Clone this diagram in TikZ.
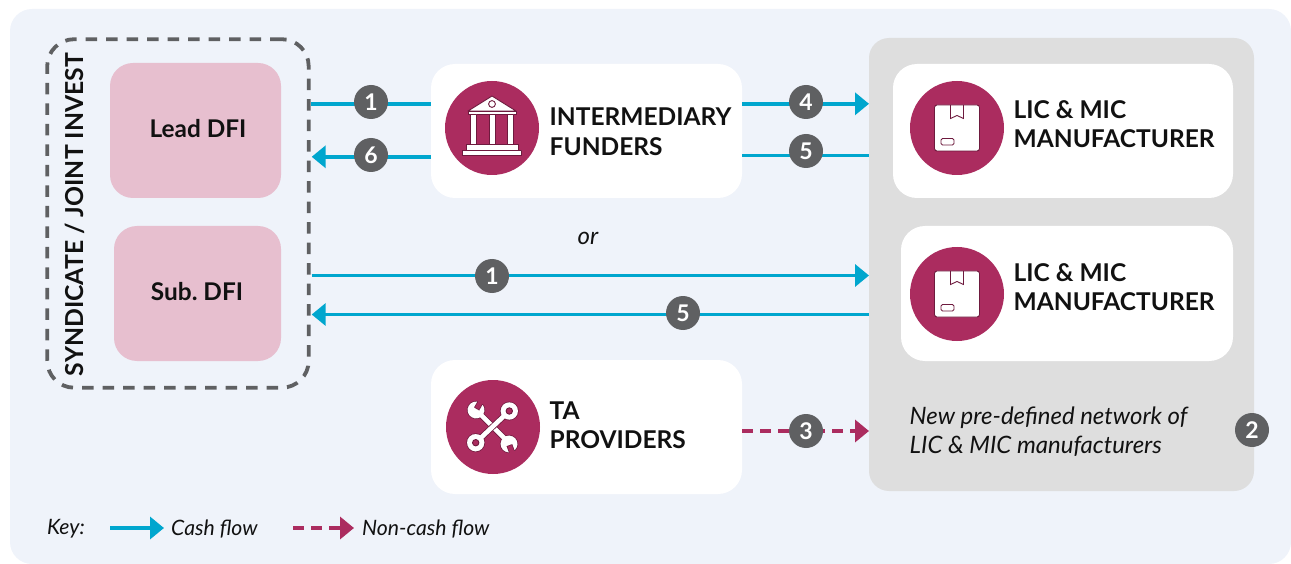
\documentclass[tikz,border=0pt]{standalone}
\usepackage{fontspec}
\setmainfont{Lato}
\usetikzlibrary{arrows.meta,calc}
\definecolor{bgc}{HTML}{EFF3FA}
\definecolor{cash}{HTML}{00A6CE}
\definecolor{plum}{HTML}{AB2C5F}
\definecolor{plumd}{HTML}{6E1A3E}
\definecolor{pinkc}{HTML}{E7BFCF}
\definecolor{greyc}{HTML}{DEDEDE}
\definecolor{badgec}{HTML}{5F6062}
\definecolor{inkc}{HTML}{111111}
\tikzset{
 x=1pt,y=-1pt,
 whitebox/.style={fill=white,rounded corners=24pt,draw=none,anchor=north west,inner sep=0pt,outer sep=0pt},
 pinkbox/.style={fill=pinkc,rounded corners=23pt,draw=none,anchor=north west,inner sep=0pt,outer sep=0pt},
 iconc/.style={circle,fill=plum,minimum size=94pt,inner sep=0pt,outer sep=0pt,draw=none},
 badge/.style={circle,fill=badgec,text=white,minimum size=34pt,inner sep=0pt,font=\fontsize{23}{23}\selectfont\bfseries},
 cashline/.style={draw=cash,line width=3.6pt},
 casharrow/.style={cashline,-{Triangle[length=14pt,width=22pt]}},
 noncash/.style={draw=plum,line width=3.6pt,dash pattern=on 11pt off 7pt,-{Triangle[length=14pt,width=22pt,fill=plum]}},
 head/.style={anchor=west,align=left,text=inkc,font=\fontsize{24.5}{29.5}\selectfont\bfseries,inner sep=0pt},
 dfi/.style={text=inkc,font=\fontsize{24.4}{28}\selectfont\bfseries},
 ital/.style={anchor=west,align=left,text=inkc,font=\fontsize{23.95}{29}\selectfont\itshape,inner sep=0pt},
 keytxt/.style={anchor=west,text=inkc,font=\fontsize{21.2}{25}\selectfont\itshape,inner sep=0pt},
 iconw/.style={fill=white,draw=plumd,line width=0.9pt,line join=round},
}
\begin{document}
\begin{tikzpicture}
\useasboundingbox (0,0) rectangle (1291,564);
\fill[bgc,rounded corners=22pt] (10,9) rectangle (1291,564);
% panels
\node[fill=greyc,rounded corners=20pt,anchor=north west,inner sep=0pt,outer sep=0pt,minimum width=385pt,minimum height=453pt] (net) at (869,38) {};
\node[draw=badgec,line width=3.8pt,dash pattern=on 11.5pt off 9pt,rounded corners=27pt,anchor=north west,inner sep=0pt,outer sep=0pt,minimum width=261.5pt,minimum height=348.5pt] (synd) at (47.2,39.2) {};
\node[pinkbox,minimum width=171pt,minimum height=135pt] (lead) at (110,63) {};
\node[dfi,xshift=2.5pt,yshift=2pt] (leadt) at (lead.center) {Lead DFI};
\node[pinkbox,minimum width=167pt,minimum height=135pt] (sub) at (114,226) {};
\node[dfi,xshift=-0.5pt,yshift=1.5pt] (subt) at (sub.center) {Sub.~DFI};
\node[whitebox,minimum width=311pt,minimum height=134pt] (inter) at (431,64) {};
\node[whitebox,minimum width=311pt,minimum height=134pt] (ta) at (431,360) {};
\node[whitebox,minimum width=340pt,minimum height=134pt] (licA) at (893,64) {};
\node[whitebox,minimum width=332pt,minimum height=135pt] (licB) at (901,226) {};
% icon discs
\node[iconc] (ci) at (492,128) {};
\node[iconc] (ct) at (493,427) {};
\node[iconc] (cla) at (957,128) {};
\node[iconc] (clb) at (957,294) {};
% bank icon
\begin{scope}[shift={(ci.center)}]
 \path[iconw] (-24,-17) -- (0,-32) -- (24,-17) -- cycle;
 \path[iconw] (-24,-17) rectangle (24,-14);
 \path[iconw] (0,-24) circle (3.4);
 \foreach \c in {-18.5,0,18.5}{\path[iconw] (\c-3,-14) rectangle (\c+3,16);}
 \path[iconw] (-26,16) rectangle (26,22);
 \path[iconw] (-29.5,22) rectangle (29.5,27);
\end{scope}
% box icons
\foreach \c in {cla,clb}{
\begin{scope}[shift={(\c.center)}]
 \path[iconw,rounded corners=2.5pt] (-22.5,-23) rectangle (22.5,23);
 \path[draw=plumd,line width=0.9pt] (-6.5,-23) -- (-6.5,-9.5) -- (0,-12.5) -- (6.5,-9.5) -- (6.5,-23);
 \path[iconw,rounded corners=1.5pt] (-16,10.5) rectangle (-3,17);
\end{scope}}
% wrench icon
\begin{scope}[shift={(ct.center)}]
 % open-ended spanner
 \foreach \col/\hw/\ow in {plumd/6.2/1.6,white/4.6/0.01}{
  \draw[\col,line width=\hw pt] (-14,-14) -- (14,14);
  \foreach \px/\py/\a in {-17/-17/-30,16/17/200}{
   \begin{scope}[shift={(\px,\py)},rotate=\a]
    \path[fill=\col,draw=\col,line width=\ow pt,line join=round] (3.2,-7.7) arc[start angle=-67.4,end angle=247.4,radius=8.34] -- (-3.2,-1) -- (3.2,-1) -- cycle;
   \end{scope}
  }
 }
 % ring spanner
 \foreach \col/\hw/\ow in {plumd/6.2/1.6,white/4.6/0.01}{
  \draw[\col,line width=\hw pt] (16.3,-16) -- (-17.3,15.7);
  \foreach \px/\py in {16.3/-16,-17.3/15.7}{
   \path[fill=\col,draw=\col,line width=\ow pt] (\px,\py) circle (8.6);
  }
 }
 \foreach \px/\py in {16.3/-16,-17.3/15.7}{
  \path[fill=plum,draw=plumd,line width=0.9pt] (\px,\py) circle (3.2);
 }
\end{scope}
% connectors
\draw[cashline] (synd.east |- 0,103.8) ++(2.5,0) -- (inter.west |- 0,103.8);
\draw[casharrow,shorten >=3pt] (inter.west |- 0,156.8) -- (synd.east |- 0,156.8);
\draw[casharrow] (inter.east |- 0,103.8) -- (net.west |- 0,103.8);
\draw[cashline] (inter.east |- 0,155.5) -- (net.west |- 0,155.5);
\draw[casharrow,shorten <=3pt] (synd.east |- 0,275.5) -- (net.west |- 0,275.5);
\draw[casharrow,shorten >=3pt] (net.west |- 0,314.5) -- (synd.east |- 0,314.5);
\draw[noncash] (ta.east |- 0,431) -- (net.west |- 0,431);
% badges
\node[badge] (b1a) at (371,102) {1};
\node[badge] (b6) at (371,155) {6};
\node[badge] (b4) at (806,102) {4};
\node[badge] (b5a) at (806,151) {5};
\node[badge] (b1b) at (492,276) {1};
\node[badge] (b5b) at (683,313) {5};
\node[badge] (b3) at (806,431) {3};
\node[badge] (b2) at (1252,430) {2};
% text
\node[head] (ti) at (549.5,131.5) {INTERMEDIARY\\FUNDERS};
\node[head] (tt) at (549.5,425) {TA\\PROVIDERS};
\node[head] (tla) at (1013.5,124) {LIC \& MIC\\MANUFACTURER};
\node[head] (tlb) at (1013.5,287) {LIC \& MIC\\MANUFACTURER};
\node[rotate=90,text=inkc,font=\fontsize{24.75}{29}\selectfont\bfseries,inner sep=0pt] (ts) at (74.5,214.5) {SYNDICATE / JOINT INVEST};
\node[ital,anchor=center] (tor) at (588,238) {or};
\node[ital] (tn) at (909.5,432) {New pre-defined network of\\LIC \& MIC manufacturers};
% key
\node[keytxt] (kk) at (47,529) {Key:};
\coordinate (ka) at (110,528); \coordinate (kb) at (164,528);
\coordinate (kc) at (293,528); \coordinate (kd) at (354,528);
\draw[casharrow] (ka) -- (kb);
\node[keytxt] (kt1) at (171,529) {Cash flow};
\draw[noncash] (kc) -- (kd);
\node[keytxt] (kt2) at (362,529) {Non-cash flow};
\end{tikzpicture}
\end{document}
